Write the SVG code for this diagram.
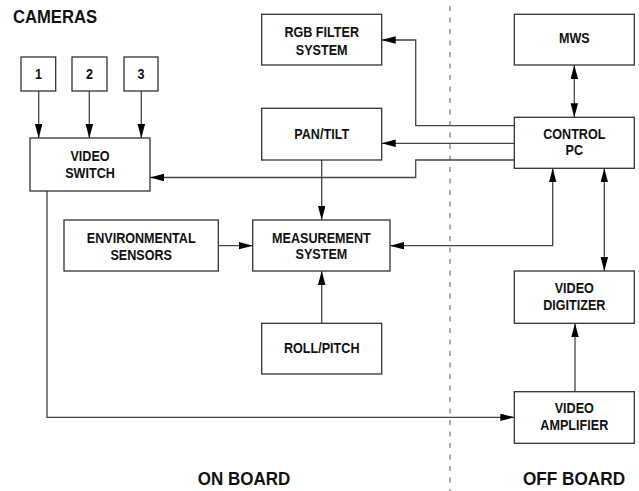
<svg xmlns="http://www.w3.org/2000/svg" width="639" height="491" viewBox="0 0 639 491">
<style>
.box{fill:#fff;stroke:#333;stroke-width:1.3}
.t{font-family:"Liberation Sans",Arial,sans-serif;font-weight:bold;font-size:15px;fill:#111;text-anchor:middle}
.big{font-family:"Liberation Sans",Arial,sans-serif;font-weight:bold;font-size:18.5px;fill:#111}
.c{fill:none;stroke:#444;stroke-width:1.3}
</style>
<defs>
<marker id="a" markerUnits="userSpaceOnUse" markerWidth="15" markerHeight="9" refX="14" refY="3.75" orient="auto-start-reverse">
<path d="M0,0 L14,3.75 L0,7.5 z" fill="#000"/>
</marker>
</defs>
<line x1="450" y1="6" x2="450" y2="491" stroke="#888" stroke-width="1.4" stroke-dasharray="5,6.5"/>
<text class="big" transform="translate(13,23) scale(0.9,1)">CAMERAS</text>
<text class="big" text-anchor="middle" transform="translate(244,485) scale(0.92,1)">ON BOARD</text>
<text class="big" text-anchor="middle" transform="translate(574,485) scale(0.93,1)">OFF BOARD</text>
<g id="connectors">
<path class="c" d="M38.7,91 V138" marker-end="url(#a)"/>
<path class="c" d="M89.3,91 V138" marker-end="url(#a)"/>
<path class="c" d="M141.3,91 V138" marker-end="url(#a)"/>
<path class="c" d="M514.3,125.7 H415.7 V40 H381.7" marker-end="url(#a)"/>
<path class="c" d="M514.3,143.3 H381.7" marker-end="url(#a)"/>
<path class="c" d="M514.3,160 H415.7 V177.5 H150" marker-end="url(#a)"/>
<path class="c" d="M321.7,160 V220" marker-end="url(#a)"/>
<path class="c" d="M218.3,245.7 H252.7" marker-end="url(#a)"/>
<path class="c" d="M552.7,168.3 V245.7 H390" marker-start="url(#a)" marker-end="url(#a)"/>
<path class="c" d="M321.7,323.3 V271" marker-end="url(#a)"/>
<path class="c" d="M574.3,65 V117.3" marker-start="url(#a)" marker-end="url(#a)"/>
<path class="c" d="M604.3,168.3 V271" marker-start="url(#a)" marker-end="url(#a)"/>
<path class="c" d="M47,191 V417.3 H514.3" marker-end="url(#a)"/>
<path class="c" d="M575,391.7 V323.3" marker-end="url(#a)"/>
</g>
<g id="cam1"><rect class="box" x="21" y="57" width="34.7" height="34"/><text class="t" transform="translate(38.4,79) scale(0.84,1)">1</text></g>
<g id="cam2"><rect class="box" x="72" y="57" width="35" height="34"/><text class="t" transform="translate(89.5,79) scale(0.84,1)">2</text></g>
<g id="cam3"><rect class="box" x="124" y="57" width="34" height="34"/><text class="t" transform="translate(141,79) scale(0.84,1)">3</text></g>
<g id="video-switch"><rect class="box" x="30" y="138" width="120" height="53"/><text class="t" transform="translate(90,161) scale(0.84,1)">VIDEO</text><text class="t" transform="translate(90,177.7) scale(0.84,1)">SWITCH</text></g>
<g id="rgb-filter"><rect class="box" x="261.7" y="14.3" width="120" height="50.7"/><text class="t" transform="translate(321.7,37.3) scale(0.84,1)">RGB FILTER</text><text class="t" transform="translate(321.7,55) scale(0.84,1)">SYSTEM</text></g>
<g id="pan-tilt"><rect class="box" x="261.7" y="108.3" width="120" height="51.7"/><text class="t" transform="translate(321.7,139) scale(0.84,1)">PAN/TILT</text></g>
<g id="environmental"><rect class="box" x="64" y="220" width="154.3" height="51"/><text class="t" transform="translate(141.2,242.7) scale(0.84,1)">ENVIRONMENTAL</text><text class="t" transform="translate(141.2,260) scale(0.84,1)">SENSORS</text></g>
<g id="measurement"><rect class="box" x="252.7" y="220" width="137.3" height="51"/><text class="t" transform="translate(321.4,242.7) scale(0.84,1)">MEASUREMENT</text><text class="t" transform="translate(321.4,259.3) scale(0.84,1)">SYSTEM</text></g>
<g id="roll-pitch"><rect class="box" x="261.7" y="323.3" width="120" height="50.7"/><text class="t" transform="translate(321.7,353) scale(0.84,1)">ROLL/PITCH</text></g>
<g id="mws"><rect class="box" x="514.3" y="14.3" width="120" height="50.7"/><text class="t" transform="translate(574.3,43.3) scale(0.84,1)">MWS</text></g>
<g id="control-pc"><rect class="box" x="514.3" y="117.3" width="120" height="51"/><text class="t" transform="translate(574.3,139.3) scale(0.84,1)">CONTROL</text><text class="t" transform="translate(574.3,155.3) scale(0.84,1)">PC</text></g>
<g id="video-digitizer"><rect class="box" x="514.3" y="271" width="120" height="52.3"/><text class="t" transform="translate(574.3,293.3) scale(0.84,1)">VIDEO</text><text class="t" transform="translate(574.3,310) scale(0.84,1)">DIGITIZER</text></g>
<g id="video-amplifier"><rect class="box" x="514.3" y="391.7" width="120" height="51.6"/><text class="t" transform="translate(574.3,413.3) scale(0.84,1)">VIDEO</text><text class="t" transform="translate(574.3,430) scale(0.84,1)">AMPLIFIER</text></g>
</svg>
